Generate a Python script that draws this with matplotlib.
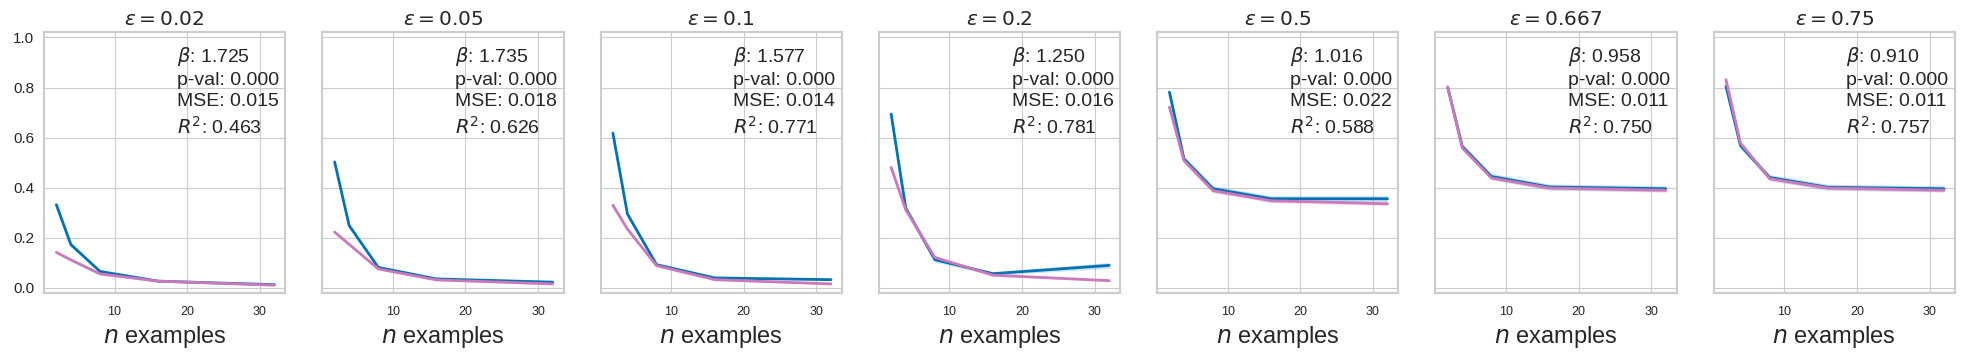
import numpy as np
import matplotlib
matplotlib.use("Agg")
import matplotlib.pyplot as plt
import seaborn as sns

sns.set_style("whitegrid")
plt.rcParams['font.family'] = ['Liberation Sans', 'DejaVu Sans']

# --- dados
n_examples = [2, 4, 8, 16, 32]
epsilons = ["0.02", "0.05", "0.1", "0.2", "0.5", "0.667", "0.75"]

blue = [
    [0.332, 0.173, 0.066, 0.027, 0.013],
    [0.503, 0.249, 0.082, 0.036, 0.023],
    [0.618, 0.295, 0.093, 0.040, 0.033],
    [0.694, 0.319, 0.113, 0.057, 0.090],
    [0.782, 0.515, 0.396, 0.356, 0.356],
    [0.802, 0.565, 0.445, 0.403, 0.396],
    [0.805, 0.568, 0.441, 0.402, 0.396],
]
pink = [
    [0.142, 0.112, 0.056, 0.027, 0.011],
    [0.223, 0.174, 0.076, 0.032, 0.016],
    [0.330, 0.235, 0.089, 0.033, 0.016],
    [0.481, 0.312, 0.122, 0.051, 0.029],
    [0.722, 0.508, 0.388, 0.348, 0.336],
    [0.802, 0.559, 0.439, 0.399, 0.390],
    [0.831, 0.578, 0.436, 0.399, 0.390],
]
# meia largura das bandas de confiança (estimada)
blue_ci = [
    [0.012, 0.008, 0.005, 0.003, 0.003],
    [0.012, 0.008, 0.005, 0.003, 0.003],
    [0.012, 0.008, 0.005, 0.003, 0.003],
    [0.008, 0.010, 0.010, 0.006, 0.012],
    [0.008, 0.012, 0.012, 0.012, 0.012],
    [0.006, 0.012, 0.012, 0.012, 0.012],
    [0.006, 0.012, 0.012, 0.012, 0.012],
]
pink_ci = [
    [0.004, 0.004, 0.004, 0.003, 0.003],
    [0.004, 0.004, 0.004, 0.003, 0.003],
    [0.004, 0.004, 0.004, 0.003, 0.003],
    [0.004, 0.005, 0.006, 0.004, 0.003],
    [0.006, 0.008, 0.008, 0.008, 0.008],
    [0.006, 0.008, 0.008, 0.008, 0.008],
    [0.006, 0.008, 0.008, 0.008, 0.008],
]
betas = ["1.725", "1.735", "1.577", "1.250", "1.016", "0.958", "0.910"]
pvals = ["0.000"] * 7
mses = ["0.015", "0.018", "0.014", "0.016", "0.022", "0.011", "0.011"]
r2s = ["0.463", "0.626", "0.771", "0.781", "0.588", "0.750", "0.757"]

c_blue = "#0173b2"
c_pink = "#cc78bc"

fig, axes = plt.subplots(1, 7, figsize=(19.64, 3.63), dpi=100, sharey=True)
fig.subplots_adjust(left=0.0224, right=0.9954, top=0.912, bottom=0.193, wspace=0.153)

x = np.array(n_examples)
for i, ax in enumerate(axes):
    b = np.array(blue[i])
    p = np.array(pink[i])
    bc = np.array(blue_ci[i])
    pc = np.array(pink_ci[i])
    ax.fill_between(x, b - bc, b + bc, color=c_blue, alpha=0.2, linewidth=0)
    ax.plot(x, b, color=c_blue, linewidth=2)
    ax.fill_between(x, p - pc, p + pc, color=c_pink, alpha=0.2, linewidth=0)
    ax.plot(x, p, color=c_pink, linewidth=2)

    ax.set_title(rf"$\varepsilon = {epsilons[i]}$", fontsize=14.5, pad=5)
    ax.set_xlabel(r"$n$ examples", fontsize=17)
    ax.set_ylim(-0.02, 1.022)
    ax.set_xlim(0.3, 33.5)
    ax.set_xticks([10, 20, 30])
    ax.set_yticks([0.0, 0.2, 0.4, 0.6, 0.8, 1.0])
    ax.tick_params(axis="x", labelsize=9, pad=6)
    ax.tick_params(axis="y", labelsize=11)
    for s in ax.spines.values():
        s.set_color("#cccccc")
        s.set_linewidth(1.5)

    txt = (rf"$\beta$: {betas[i]}" + "\n" + f"p-val: {pvals[i]}" + "\n"
           + f"MSE: {mses[i]}" + "\n" + rf"$R^2$: {r2s[i]}")
    ax.text(0.55, 0.95, txt, transform=ax.transAxes, ha="left", va="top",
            fontsize=14, linespacing=1.32, color="#262626")

plt.savefig("out.png", dpi=100)
